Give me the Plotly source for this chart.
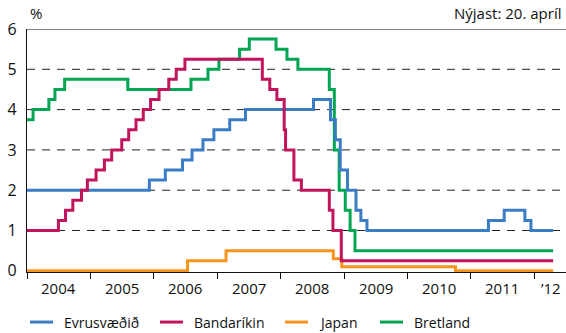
import plotly.graph_objects as go

# Policy rates (%), step changes: date of change and new level
END_DATE = "2012-04-20"

euro_dates = ["2004-01-01", "2005-12-06", "2006-03-08", "2006-06-15", "2006-08-09",
              "2006-10-11", "2006-12-13", "2007-03-14", "2007-06-13", "2008-07-09",
              "2008-10-15", "2008-11-12", "2008-12-10", "2009-01-21", "2009-03-11",
              "2009-04-08", "2009-05-13", "2011-04-13", "2011-07-13", "2011-11-09",
              "2011-12-14"]
euro_rates = [2.0, 2.25, 2.5, 2.75, 3.0, 3.25, 3.5, 3.75, 4.0, 4.25,
              3.75, 3.25, 2.5, 2.0, 1.5, 1.25, 1.0, 1.25, 1.5, 1.25, 1.0]

us_dates = ["2004-01-01", "2004-06-30", "2004-08-10", "2004-09-21", "2004-11-10",
            "2004-12-14", "2005-02-02", "2005-03-22", "2005-05-03", "2005-06-30",
            "2005-08-09", "2005-09-20", "2005-11-01", "2005-12-13", "2006-01-31",
            "2006-03-28", "2006-05-10", "2006-06-29", "2007-09-18", "2007-10-31",
            "2007-12-11", "2008-01-22", "2008-01-30", "2008-03-18", "2008-04-30",
            "2008-10-08", "2008-10-29", "2008-12-16"]
us_rates = [1.0, 1.25, 1.5, 1.75, 2.0, 2.25, 2.5, 2.75, 3.0, 3.25, 3.5, 3.75,
            4.0, 4.25, 4.5, 4.75, 5.0, 5.25, 4.75, 4.5, 4.25, 3.5, 3.0, 2.25,
            2.0, 1.5, 1.0, 0.25]

japan_dates = ["2004-01-01", "2006-07-14", "2007-02-21", "2008-10-31", "2008-12-19",
               "2010-10-05"]
japan_rates = [0.0, 0.25, 0.5, 0.3, 0.1, 0.0]

uk_dates = ["2004-01-01", "2004-02-05", "2004-05-06", "2004-06-10", "2004-08-05",
            "2005-08-04", "2006-08-03", "2006-11-09", "2007-01-11", "2007-05-10",
            "2007-07-05", "2007-12-06", "2008-02-07", "2008-04-10", "2008-10-08",
            "2008-11-06", "2008-12-04", "2009-01-08", "2009-02-05", "2009-03-05"]
uk_rates = [3.75, 4.0, 4.25, 4.5, 4.75, 4.5, 4.75, 5.0, 5.25, 5.5, 5.75, 5.5,
            5.25, 5.0, 4.5, 3.0, 2.0, 1.5, 1.0, 0.5]

year_labels = ["2004", "2005", "2006", "2007", "2008", "2009", "2010", "2011", "\u201912"]
year_label_pos = ["2004-07-02", "2005-07-02", "2006-07-02", "2007-07-02", "2008-07-02",
                  "2009-07-02", "2010-07-02", "2011-07-02", "2012-04-05"]
year_ticks = [f"{y}-01-01" for y in range(2004, 2013)]

series = [
    ("Evrusvæðið", euro_dates, euro_rates, "#3b7dc4"),
    ("Bandaríkin", us_dates, us_rates, "#c0145d"),
    ("Japan", japan_dates, japan_rates, "#f7941e"),
    ("Bretland", uk_dates, uk_rates, "#00a651"),
]

FONT = "Open Sans"

fig = go.Figure()

# draw order: green, orange, blue, magenta on top
for idx in [3, 2, 0, 1]:
    name, dates, rates, color = series[idx]
    fig.add_trace(go.Scatter(
        x=dates + [END_DATE],
        y=rates + [rates[-1]],
        mode="lines",
        line=dict(color=color, width=3, shape="hv"),
        name=name,
        showlegend=False,
        hoverinfo="skip",
    ))

# dashed grid lines
for v in [1, 2, 3, 4, 5]:
    fig.add_shape(type="line", xref="paper", x0=0, x1=1, yref="y", y0=v, y1=v,
                  line=dict(color="#222222", width=1, dash="8px,7px"), layer="below")

# top border
fig.add_shape(type="line", xref="paper", x0=0, x1=1, yref="y", y0=6, y1=6,
              line=dict(color="#555555", width=1.5), layer="above")

# year labels centred in each year
for lab, pos in zip(year_labels, year_label_pos):
    fig.add_annotation(x=pos, y=-0.066, xref="x", yref="paper", text=lab,
                       showarrow=False, xanchor="center", yanchor="middle",
                       font=dict(family=FONT, size=15, color="#111111"))

# legend drawn by hand
legend_x = [30, 160, 285, 380]
for (name, _, _, color), lx in zip(series, legend_x):
    x0 = (lx - 27) / 539
    x1 = (lx + 23 - 27) / 539
    fig.add_shape(type="line", xref="paper", yref="paper", x0=x0, x1=x1,
                  y0=-0.206, y1=-0.206, line=dict(color=color, width=3))
    fig.add_annotation(x=(lx + 32 - 27) / 539, y=-0.206, xref="paper", yref="paper",
                       text=name, showarrow=False, xanchor="left", yanchor="middle",
                       font=dict(family=FONT, size=14, color="#111111"))

fig.add_annotation(x=0.002, y=1.015, xref="paper", yref="paper", text="%",
                   showarrow=False, xanchor="left", yanchor="bottom",
                   font=dict(family=FONT, size=15, color="#111111"))
fig.add_annotation(x=0.995, y=1.015, xref="paper", yref="paper", text="Nýjast: 20. apríl",
                   showarrow=False, xanchor="right", yanchor="bottom",
                   font=dict(family=FONT, size=15, color="#111111"))

fig.update_layout(
    width=566,
    height=333,
    margin=dict(l=27, r=0, t=29, b=61),
    plot_bgcolor="white",
    paper_bgcolor="white",
    showlegend=False,
    hovermode=False,
    xaxis=dict(
        type="date",
        range=["2004-01-01", "2012-07-03"],
        tickvals=year_ticks,
        ticktext=[""] * len(year_ticks),
        ticks="outside",
        ticklen=6,
        tickwidth=1.2,
        tickcolor="#111111",
        showline=True,
        linecolor="#111111",
        linewidth=1.2,
        showgrid=False,
        zeroline=False,
        automargin=False,
    ),
    yaxis=dict(
        range=[-0.03, 6],
        tickvals=[0, 1, 2, 3, 4, 5, 6],
        showgrid=False,
        zeroline=False,
        showline=True,
        linecolor="#111111",
        linewidth=1.2,
        ticks="",
        ticklabelstandoff=6,
        tickfont=dict(family=FONT, size=16, color="#111111"),
        automargin=False,
    ),
)

# the page's default body margin would shift the chart by 8px
fig.write_html("out.html", config={"displayModeBar": False},
               post_script="document.body.style.margin = '0px';")
